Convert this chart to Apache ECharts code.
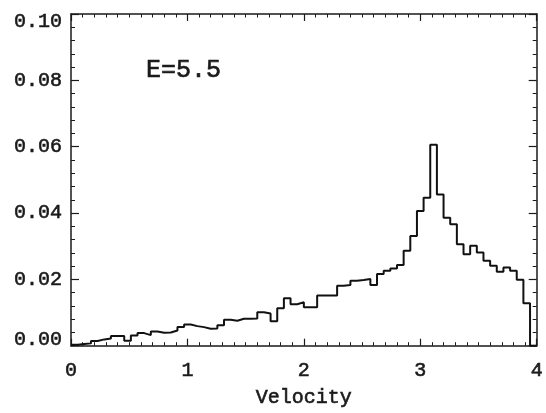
<!DOCTYPE html>
<html>
<head>
<meta charset="utf-8">
<script src="https://cdn.jsdelivr.net/npm/echarts@6/dist/echarts.min.js"></script>
<style>
html,body{margin:0;padding:0;background:#fff;}
#chart{width:546px;height:413px;}
</style>
</head>
<body>
<div id="chart"></div>
<script>
// Histogram: 70 bins over velocity 0..4
const binCount = 70;
const velocityMax = 4;
const density = [
  0.0003, 0.0005, 0.0007, 0.0014, 0.0019, 0.0022, 0.0029, 0.0029, 0.0015, 0.0031,
  0.0038, 0.0032, 0.0043, 0.0039, 0.0040, 0.0046, 0.0056, 0.0064, 0.0059, 0.0056,
  0.0051, 0.0052, 0.0062, 0.0078, 0.0075, 0.0081, 0.0081, 0.0082, 0.0101, 0.0097,
  0.0074, 0.0113, 0.0143, 0.0125, 0.0131, 0.0116, 0.0116, 0.0151, 0.0151, 0.0151,
  0.0181, 0.0183, 0.0196, 0.0198, 0.0201, 0.0183, 0.0216, 0.0226, 0.0233, 0.0243,
  0.0286, 0.0331, 0.0406, 0.0446, 0.0606, 0.0456, 0.0386, 0.0366, 0.0306, 0.0276,
  0.0301, 0.0281, 0.0256, 0.0241, 0.0223, 0.0236, 0.0226, 0.0199, 0.0128, 0.0000
];
const xTickValues = [0, 1, 2, 3, 4];
const yTickLabels = ['0.00', '0.02', '0.04', '0.06', '0.08', '0.10'];
const annotation = 'E=5.5';
const xTitle = 'Velocity';

const binWidth = velocityMax / binCount;
const stepData = density.map((v, i) => [i * binWidth, v]);
stepData.push([velocityMax, density[density.length - 1]]);

const FONT = '"Liberation Mono", "DejaVu Sans Mono", monospace';
const INK = '#1a1a1a';
const txt = (size) => ({ fontFamily: FONT, fontSize: size, color: INK, textBorderColor: INK, textBorderWidth: 0.6 });

const axisLineStyle = { color: INK, width: 1.5 };
function xAx(pos, showLabel) {
  return {
    type: 'value', gridIndex: 0, position: pos, min: 0, max: 4, interval: 1,
    axisLine: { show: true, onZero: false, lineStyle: axisLineStyle },
    axisTick: { show: true, inside: true, length: 7, lineStyle: { color: INK, width: 1.2 } },
    minorTick: { show: true, splitNumber: 10, length: 3.5, lineStyle: { color: INK, width: 1 } },
    splitLine: { show: false },
    axisLabel: Object.assign({
      show: showLabel, margin: 15,
      formatter: v => String(xTickValues[Math.round(v)])
    }, txt(20)),
    name: showLabel ? xTitle : '',
    nameLocation: 'middle', nameGap: 42,
    nameTextStyle: txt(20)
  };
}
function yAx(pos, showLabel) {
  return {
    type: 'value', gridIndex: 0, position: pos, min: 0, max: 0.1, interval: 0.02,
    axisLine: { show: true, onZero: false, lineStyle: axisLineStyle },
    axisTick: { show: true, inside: true, length: 8, lineStyle: { color: INK, width: 1.2 } },
    minorTick: { show: true, splitNumber: 5, length: 4, lineStyle: { color: INK, width: 1 } },
    splitLine: { show: false },
    axisLabel: Object.assign({
      show: showLabel, margin: 9,
      formatter: v => {
        const idx = Math.round(v / 0.02);
        const t = yTickLabels[idx];
        if (idx === 5) return '{top|' + t + '}';
        if (idx === 0) return '{bot|' + t + '}';
        return t;
      },
      rich: {
        top: Object.assign({ padding: [16, 0, 0, 0] }, txt(20)),
        bot: Object.assign({ padding: [0, 0, 12, 0] }, txt(20))
      }
    }, txt(20))
  };
}

const chart = echarts.init(document.getElementById('chart'), null, { renderer: 'canvas' });
chart.setOption({
  animation: false,
  backgroundColor: '#ffffff',
  grid: { left: 71, right: 7, top: 14, bottom: 66, containLabel: false },
  title: {
    text: annotation, left: 146, top: 58, padding: 0,
    textStyle: Object.assign({ fontWeight: 'normal' }, txt(25))
  },
  xAxis: [xAx('bottom', true), xAx('top', false)],
  yAxis: [yAx('left', true), yAx('right', false)],
  series: [{
    type: 'line', xAxisIndex: 0, yAxisIndex: 0,
    data: stepData, step: 'end', showSymbol: false, symbol: 'none',
    lineStyle: { color: '#111', width: 2 },
    clip: false
  }]
});
</script>
</body>
</html>
